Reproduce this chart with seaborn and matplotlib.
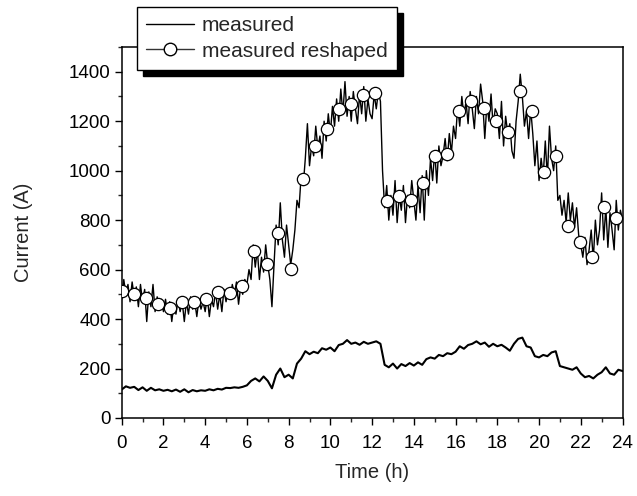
import numpy as np
import pandas as pd
import matplotlib
matplotlib.use("Agg")
import matplotlib.pyplot as plt
from matplotlib.lines import Line2D
from matplotlib.patches import Rectangle
import seaborn as sns

# ---------------- data ----------------
# measured current (upper curve), sampled every 0.1 h from 0 to 24 h
measured_upper = [
    480, 560, 500, 540, 470, 550, 490, 530, 450, 540,
    470, 520, 390, 510, 450, 540, 430, 490, 440, 480,
    430, 480, 420, 470, 390, 460, 420, 480, 430, 470,
    390, 470, 420, 490, 440, 470, 410, 480, 440, 470,
    430, 490, 410, 480, 450, 510, 440, 500, 430, 520,
    470, 520, 480, 540, 500, 550, 460, 530, 500, 560,
    540, 600, 560, 700, 610, 680, 560, 650, 590, 700,
    620, 560, 450, 620, 780, 700, 870, 720, 650, 780,
    700, 620, 680, 760, 880, 850, 980, 940, 1050, 1190,
    1020, 1100, 1060, 1180, 1090, 1140, 1050, 1200, 1120, 1230,
    1150, 1260, 1180, 1290, 1200, 1330, 1230, 1360, 1220, 1300,
    1200, 1320, 1250, 1190, 1310, 1230, 1340, 1200, 1290, 1230,
    1210, 1310, 1250, 1320, 1280, 1000, 850, 940, 800, 900,
    820, 960, 790, 900, 840, 940, 790, 900, 850, 960,
    880, 800, 940, 830, 980, 800, 1000, 900, 1050, 960,
    1080, 950, 1100, 1020, 1060, 1130, 1040, 1150, 1070, 1180,
    1130, 1260, 1180, 1300, 1220, 1280, 1190, 1320, 1250, 1170,
    1300, 1230, 1350, 1280, 1130, 1270, 1200, 1310, 1180, 1250,
    1230, 1130, 1280, 1100, 1220, 1150, 1190, 1080, 1050, 1200,
    1280, 1390, 1300, 1180, 1240, 1130, 1250, 1150, 1020, 1120,
    960, 1050, 980, 1120, 970, 1180, 1050, 1000, 1100, 880,
    900, 820, 880, 790, 910, 800, 870, 770, 850, 740,
    700, 650, 730, 620, 680, 760, 640, 800, 700, 760,
    910, 720, 850, 690, 830, 760, 680, 880, 760, 840,
    800,
]
time_upper = [round(0.1 * i, 1) for i in range(len(measured_upper))]

# measured current (lower curve), sampled every 0.2 h
measured_lower = [
    115, 128, 122, 126, 113, 124, 110, 122, 112, 116,
    110, 114, 108, 115, 106, 116, 104, 113, 108, 112,
    110, 116, 112, 118, 115, 122, 121, 124, 122, 126,
    132, 150, 160, 148, 168, 150, 120, 175, 200, 165,
    175, 160, 220, 240, 270, 258, 268, 262, 282, 276,
    285, 270, 295, 300, 315, 300, 305, 296, 308, 300,
    305, 310, 300, 215, 205, 220, 200, 218, 210, 222,
    212, 225, 215, 238, 245, 240, 255, 250, 262, 258,
    268, 290, 280, 295, 300, 310, 298, 305, 288, 300,
    290, 296, 285, 272, 300, 320, 325, 290, 285, 250,
    245, 255, 250, 265, 270, 210, 205, 200, 195, 205,
    180, 165, 170, 160, 175, 185, 205, 180, 175, 195,
    190,
]
time_lower = [round(0.2 * i, 1) for i in range(len(measured_lower))]

# measured reshaped (open circles)
time_reshaped = [0.0, 0.58, 1.16, 1.73, 2.31, 2.89, 3.47, 4.05, 4.62, 5.2,
                 5.78, 6.36, 6.94, 7.51, 8.09, 8.67, 9.25, 9.83, 10.4, 10.98,
                 11.56, 12.14, 12.72, 13.29, 13.87, 14.45, 15.03, 15.61, 16.18, 16.76,
                 17.34, 17.92, 18.5, 19.07, 19.65, 20.23, 20.81, 21.39, 21.97, 22.54,
                 23.12, 23.7]
current_reshaped = [513, 500, 484, 460, 446, 468, 468, 481, 508, 506,
                    535, 676, 622, 746, 602, 968, 1101, 1169, 1250, 1270,
                    1304, 1315, 876, 896, 880, 950, 1058, 1069, 1240, 1281,
                    1254, 1200, 1156, 1321, 1240, 994, 1060, 775, 712, 649,
                    853, 809]

x_ticks = list(range(0, 25, 2))
y_ticks = list(range(0, 1401, 200))

# ---------------- style ----------------
sns.set_style("ticks")
plt.rcParams["font.family"] = ["Liberation Sans", "DejaVu Sans"]

fig = plt.figure(figsize=(6.37, 4.96), dpi=100)
ax = fig.add_axes([121.7 / 637, 78 / 496, 500.8 / 637, 371 / 496])

df_up = pd.DataFrame({"t": time_upper, "I": measured_upper})
df_lo = pd.DataFrame({"t": time_lower, "I": measured_lower})
df_rs = pd.DataFrame({"t": time_reshaped, "I": current_reshaped})

sns.lineplot(data=df_up, x="t", y="I", ax=ax, color="black", lw=1.0,
             estimator=None, sort=False)
sns.lineplot(data=df_lo, x="t", y="I", ax=ax, color="black", lw=1.5,
             estimator=None, sort=False)
sns.scatterplot(data=df_rs, x="t", y="I", ax=ax, s=78, marker="o",
                facecolor="white", edgecolor="black", linewidth=0.9, zorder=5)

ax.set_xlim(0, 24)
ax.set_ylim(0, 1500)
ax.set_xticks(x_ticks)
ax.set_yticks(y_ticks)
ax.set_xticks(range(0, 25), minor=True)
ax.set_yticks(range(0, 1501, 100), minor=True)
ax.tick_params(axis="both", which="major", direction="out", length=5,
               width=1, labelsize=13.5, colors="black")
ax.tick_params(axis="x", which="major", pad=7)
ax.tick_params(axis="y", which="major", pad=3)
ax.tick_params(axis="both", which="minor", direction="out", length=3, width=1)
ax.tick_params(top=False, right=False, which="both")
for sp in ax.spines.values():
    sp.set_visible(True)
    sp.set_linewidth(1.1)
    sp.set_color("black")

ax.set_xlabel("Time (h)", fontsize=14.5, labelpad=8)
ax.set_ylabel("Current (A)", fontsize=14.5, labelpad=26)

handles = [
    Line2D([], [], color="black", lw=1.0),
    Line2D([], [], color="#333333", lw=1.0, marker="o", markersize=9,
           markerfacecolor="white", markeredgecolor="black"),
]
leg = fig.legend(handles, ["measured", "measured reshaped"],
                 loc="upper left", bbox_to_anchor=(137 / 637, 1 - 7 / 496),
                 frameon=True, fancybox=False, fontsize=15,
                 handlelength=2.3, handletextpad=0.35, borderpad=0.45,
                 labelspacing=0.3, borderaxespad=0)
leg.get_frame().set_edgecolor("black")
leg.get_frame().set_linewidth(1.0)
leg.get_frame().set_alpha(1)
leg.set_zorder(20)

fig.canvas.draw()
bb = leg.get_window_extent().transformed(fig.transFigure.inverted())
off_x, off_y = 6 / 637, 6 / 496
shadow = Rectangle((bb.x0 + off_x, bb.y0 - off_y), bb.width, bb.height,
                   transform=fig.transFigure, facecolor="black",
                   edgecolor="black", zorder=19)
fig.patches.append(shadow)

fig.savefig("out.png", dpi=100)
